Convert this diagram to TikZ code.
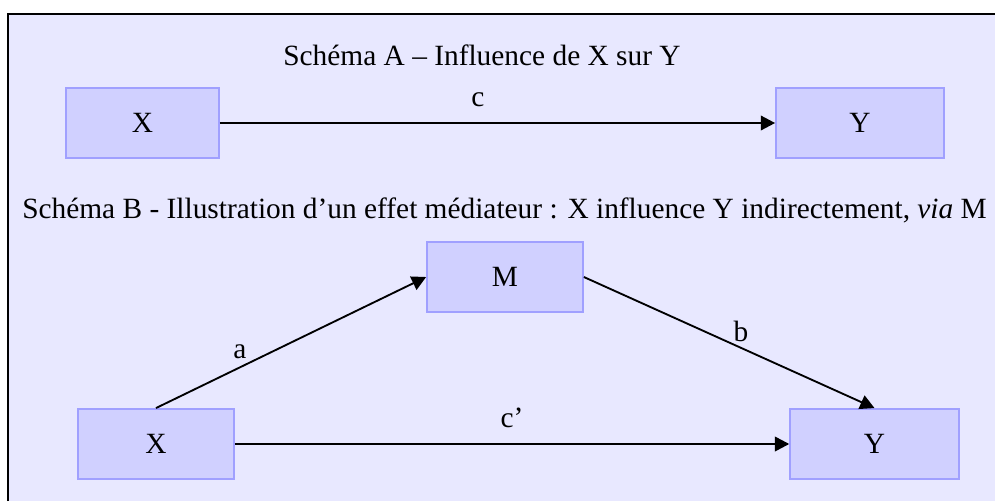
\documentclass[tikz,border=0pt]{standalone}
\usepackage{fontspec}
\setmainfont{Liberation Serif}
\usetikzlibrary{arrows.meta}
\definecolor{fond}{RGB}{232,232,255}
\definecolor{boite}{RGB}{208,208,255}
\definecolor{bord}{RGB}{160,160,255}

\begin{document}
\begin{tikzpicture}[x=1.328cm, y=1.328cm, font=\fontsize{11.1}{13}\selectfont,
    var/.style={draw=bord, fill=boite, line width=0.7pt, minimum height=0.93cm, inner sep=0pt},
    fleche/.style={-{Triangle[length=5.4pt, width=5.5pt]}, line width=0.7pt},
    lbl/.style={anchor=base, inner sep=0pt}]
  % Cadre
  \useasboundingbox (0,0) rectangle (9.95,5.01);
  \fill[fond] (0.08,0) rectangle (9.95,4.87);
  \draw[line width=1pt] (0.08,0) -- (0.08,4.87) -- (9.95,4.87);
  % Schema A
  \node[lbl] (titreA) at (4.82,4.36) {Schéma A – Influence de X sur Y};
  \node[var, minimum width=2.03cm] (xa) at (1.425,3.78) {X};
  \node[var, minimum width=2.23cm] (ya) at (8.60,3.78) {Y};
  \draw[fleche] (xa) -- (ya);
  \node[lbl] (lc) at (4.78,3.95) {c};
  % Schema B
  \node[lbl] (titreB) at (5.045,2.83) {Schéma B - Illustration d’un effet médiateur : X influence Y indirectement, \textit{via} M};
  \node[var, minimum width=2.07cm] (m) at (5.05,2.24) {M};
  \node[var, minimum width=2.07cm] (xb) at (1.56,0.57) {X};
  \node[var, minimum width=2.24cm] (yb) at (8.745,0.57) {Y};
  \draw[fleche] (xb.north) -- (m.west);
  \draw[fleche] (m.east) -- (yb.north);
  \draw[fleche] (xb) -- (yb);
  \node[lbl] (la) at (2.40,1.43) {a};
  \node[lbl] (lb) at (7.41,1.60) {b};
  \node[lbl] (lcp) at (5.12,0.74) {c’};
\end{tikzpicture}
\end{document}
